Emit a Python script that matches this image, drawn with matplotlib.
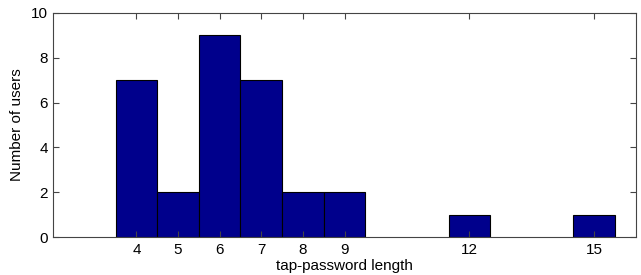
import matplotlib
matplotlib.use("Agg")
import matplotlib.pyplot as plt

# tap-password lengths and how many users chose each
lengths = [4, 5, 6, 7, 8, 9, 12, 15]
users = [7, 2, 9, 7, 2, 2, 1, 1]
yticks = [0, 2, 4, 6, 8, 10]

plt.rcParams['font.family'] = ['Liberation Sans', 'DejaVu Sans']

fig = plt.figure(figsize=(6.41, 2.75), dpi=100)
ax = fig.add_axes([0.083, 0.138, 0.909, 0.815])

ax.bar(lengths, users, width=1.0, color='#00008C', edgecolor='black', linewidth=0.8)

ax.set_xlim(2, 16)
ax.set_ylim(0, 10)
ax.set_xticks(lengths)
ax.set_yticks(yticks)
ax.tick_params(direction='in', top=True, right=True, labelsize=11, length=4, width=0.8,
               color='#444444', pad=4)
for s in ax.spines.values():
    s.set_color('#444444')
    s.set_linewidth(0.8)

ax.set_xlabel('tap-password length', fontsize=11, labelpad=2)
ax.set_ylabel('Number of users', fontsize=11, labelpad=5)

fig.savefig('out.png', dpi=100)
